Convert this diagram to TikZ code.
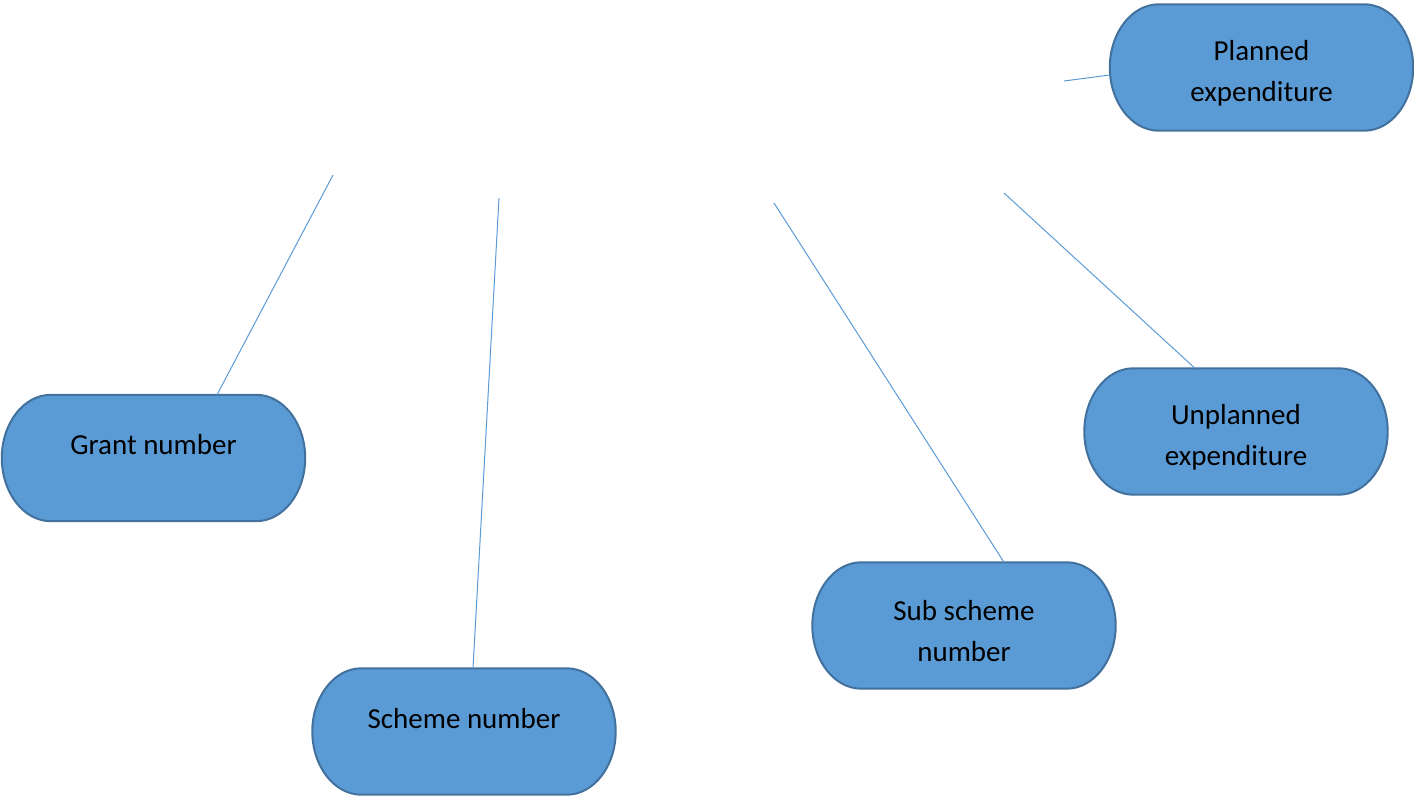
\documentclass[tikz,border=0pt]{standalone}
\usepackage{fontspec}
\setmainfont{Carlito}
\definecolor{boxfill}{HTML}{5B9BD5}
\definecolor{boxline}{HTML}{41719C}
\definecolor{linkline}{HTML}{5B9BD5}
% terminator outline with elliptical ends (49pt x 63pt) around a placeholder node
\newcommand\terminatorbox[1]{%
  \draw[pillline] ([xshift=49pt]#1.north west) -- ([xshift=-49pt]#1.north east)
    .. controls ([xshift=-21.94pt]#1.north east) and ([yshift=34.8pt]#1.east) .. (#1.east)
    .. controls ([yshift=-34.8pt]#1.east) and ([xshift=-21.94pt]#1.south east) .. ([xshift=-49pt]#1.south east)
    -- ([xshift=49pt]#1.south west)
    .. controls ([xshift=21.94pt]#1.south west) and ([yshift=-34.8pt]#1.west) .. (#1.west)
    .. controls ([yshift=34.8pt]#1.west) and ([xshift=21.94pt]#1.north west) .. ([xshift=49pt]#1.north west)
    -- cycle;}
\begin{document}
\begin{tikzpicture}[x=1pt,y=-1pt,
  pill/.style={minimum width=303pt, minimum height=126pt, inner sep=0pt},
  pillline/.style={draw=boxline, fill=boxfill, line width=2pt},
  label/.style={font=\fontsize{29}{41}\selectfont, align=center, text=black},
  link/.style={draw=linkline, line width=1pt}]
\useasboundingbox (0,0) rectangle (1414,800);

% box placeholders
\node[pill] (grant)   at (153.5,458)  {};
\node[pill] (scheme)  at (464,731.5)  {};
\node[pill] (sub)     at (964,625.5)  {};
\node[pill] (unpl)    at (1236,431.5) {};
\node[pill] (plan)    at (1261.5,67.5) {};

% box outlines
\terminatorbox{grant}
\terminatorbox{scheme}
\terminatorbox{sub}
\terminatorbox{unpl}
\terminatorbox{plan}

% box texts
\node[label] (tgrant)  at (153.5,445)  {Grant number};
\node[label] (tscheme) at (464,719)    {Scheme number};
\node[label] (tsub)    at (964,631.5)  {Sub scheme\\number};
\node[label] (tunpl)   at (1236,437.5) {Unplanned\\expenditure};
\node[label] (tplan)   at (1261.5,73)  {Planned\\expenditure};

% free ends of the connectors
\coordinate (e1) at (333,175);
\coordinate (e2) at (499,198);
\coordinate (e3) at (774,203);
\coordinate (e4) at (1004,193);
\coordinate (e5) at (1064,81);

% connectors
\draw[link] (e1) -- ([xshift=63.5pt]grant.north);
\draw[link] (e2) -- ([xshift=9pt]scheme.north);
\draw[link] (e3) -- ([xshift=40pt]sub.north);
\draw[link] (e4) -- ([xshift=-41pt]unpl.north);
\draw[link] (e5) -- ([yshift=-7.5pt]plan.west);
\end{tikzpicture}
\end{document}
